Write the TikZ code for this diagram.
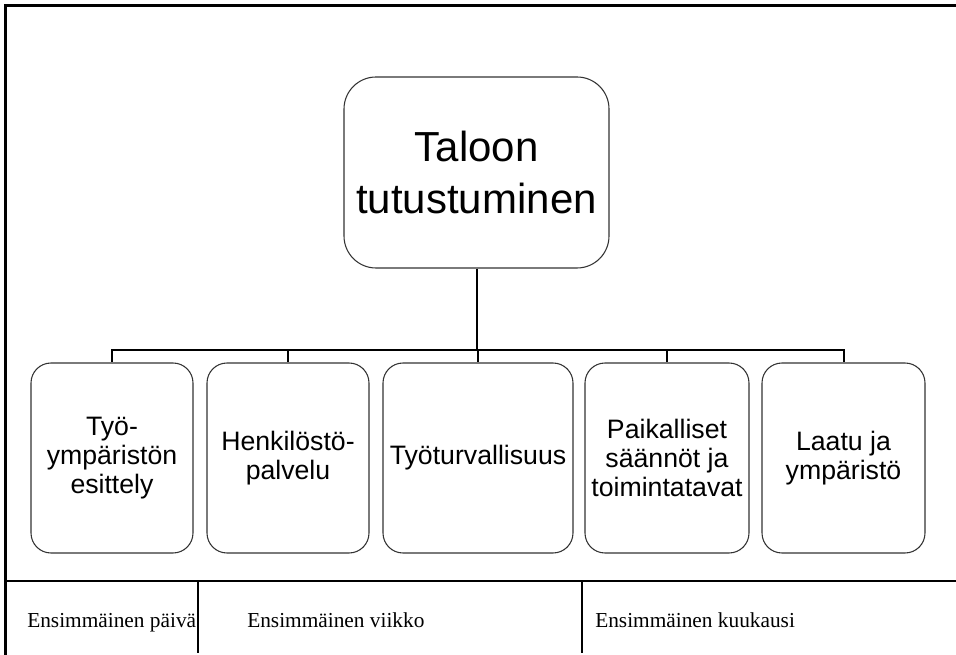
\documentclass[tikz,border=0pt]{standalone}
\usepackage{fontspec}
\setmainfont{Liberation Serif}
\newfontfamily\boxfont{Liberation Sans}
\begin{document}
\begin{tikzpicture}[x=0.75pt,y=-0.75pt,
  card/.style={draw=black!80,line width=0.8pt,rounded corners=15pt,
    align=center,inner sep=0pt,minimum height=142.5pt,
    font=\boxfont\fontsize{20}{22}\selectfont},
  headcard/.style={draw=black!80,line width=0.8pt,rounded corners=24pt,
    align=center,inner sep=0pt,minimum width=198.75pt,minimum height=143.25pt,
    font=\boxfont\fontsize{31.5}{39}\selectfont},
  link/.style={line width=1.5pt},
  frame/.style={line width=2.3pt},
  rule/.style={line width=1pt},
  period/.style={anchor=base west,inner sep=0pt,font=\fontsize{16}{19}\selectfont}]
\useasboundingbox (0,0) rectangle (956,655);

% outer frame (top and left edges only)
\draw[frame] (956,5.5) -- (5.5,5.5) -- (5.5,655);

% root node
\node[headcard] (root) at (476.5,172.5) {Taloon\\tutustuminen};

% child nodes
\node[card,minimum width=121.5pt]  (c1) at (112,458)   {Työ-\\ympäristön\\esittely};
\node[card,minimum width=121.5pt]  (c2) at (288,458)   {Henkilöstö-\\palvelu};
\node[card,minimum width=142.5pt]  (c3) at (478,458)   {Työturvallisuus};
\node[card,minimum width=123pt]    (c4) at (667,458)   {Paikalliset\\säännöt ja\\toimintatavat};
\node[card,minimum width=122.25pt] (c5) at (843.5,458) {Laatu ja\\ympäristö};

% tree connectors
\coordinate (bus) at (477,350);
\draw[link] (root.south) -- (root.south |- bus);
\draw[link,line cap=rect] (c1.north |- bus) -- (c5.north |- bus);
\foreach \c in {c1,c2,c3,c4,c5}
  \draw[link] (\c.north |- bus) -- (\c.north);

% timeline row
\draw[rule] (5.5,581) -- (956,581);
\coordinate (d1) at (198,581);
\coordinate (d2) at (582,581);
\draw[rule] (d1) -- (198,653);
\draw[rule] (d2) -- (582,653);
\node[period] (p1) at (27,627)  {Ensimmäinen päivä};
\node[period] (p2) at (247,627) {Ensimmäinen viikko};
\node[period] (p3) at (595,627) {Ensimmäinen kuukausi};
\end{tikzpicture}
\end{document}
